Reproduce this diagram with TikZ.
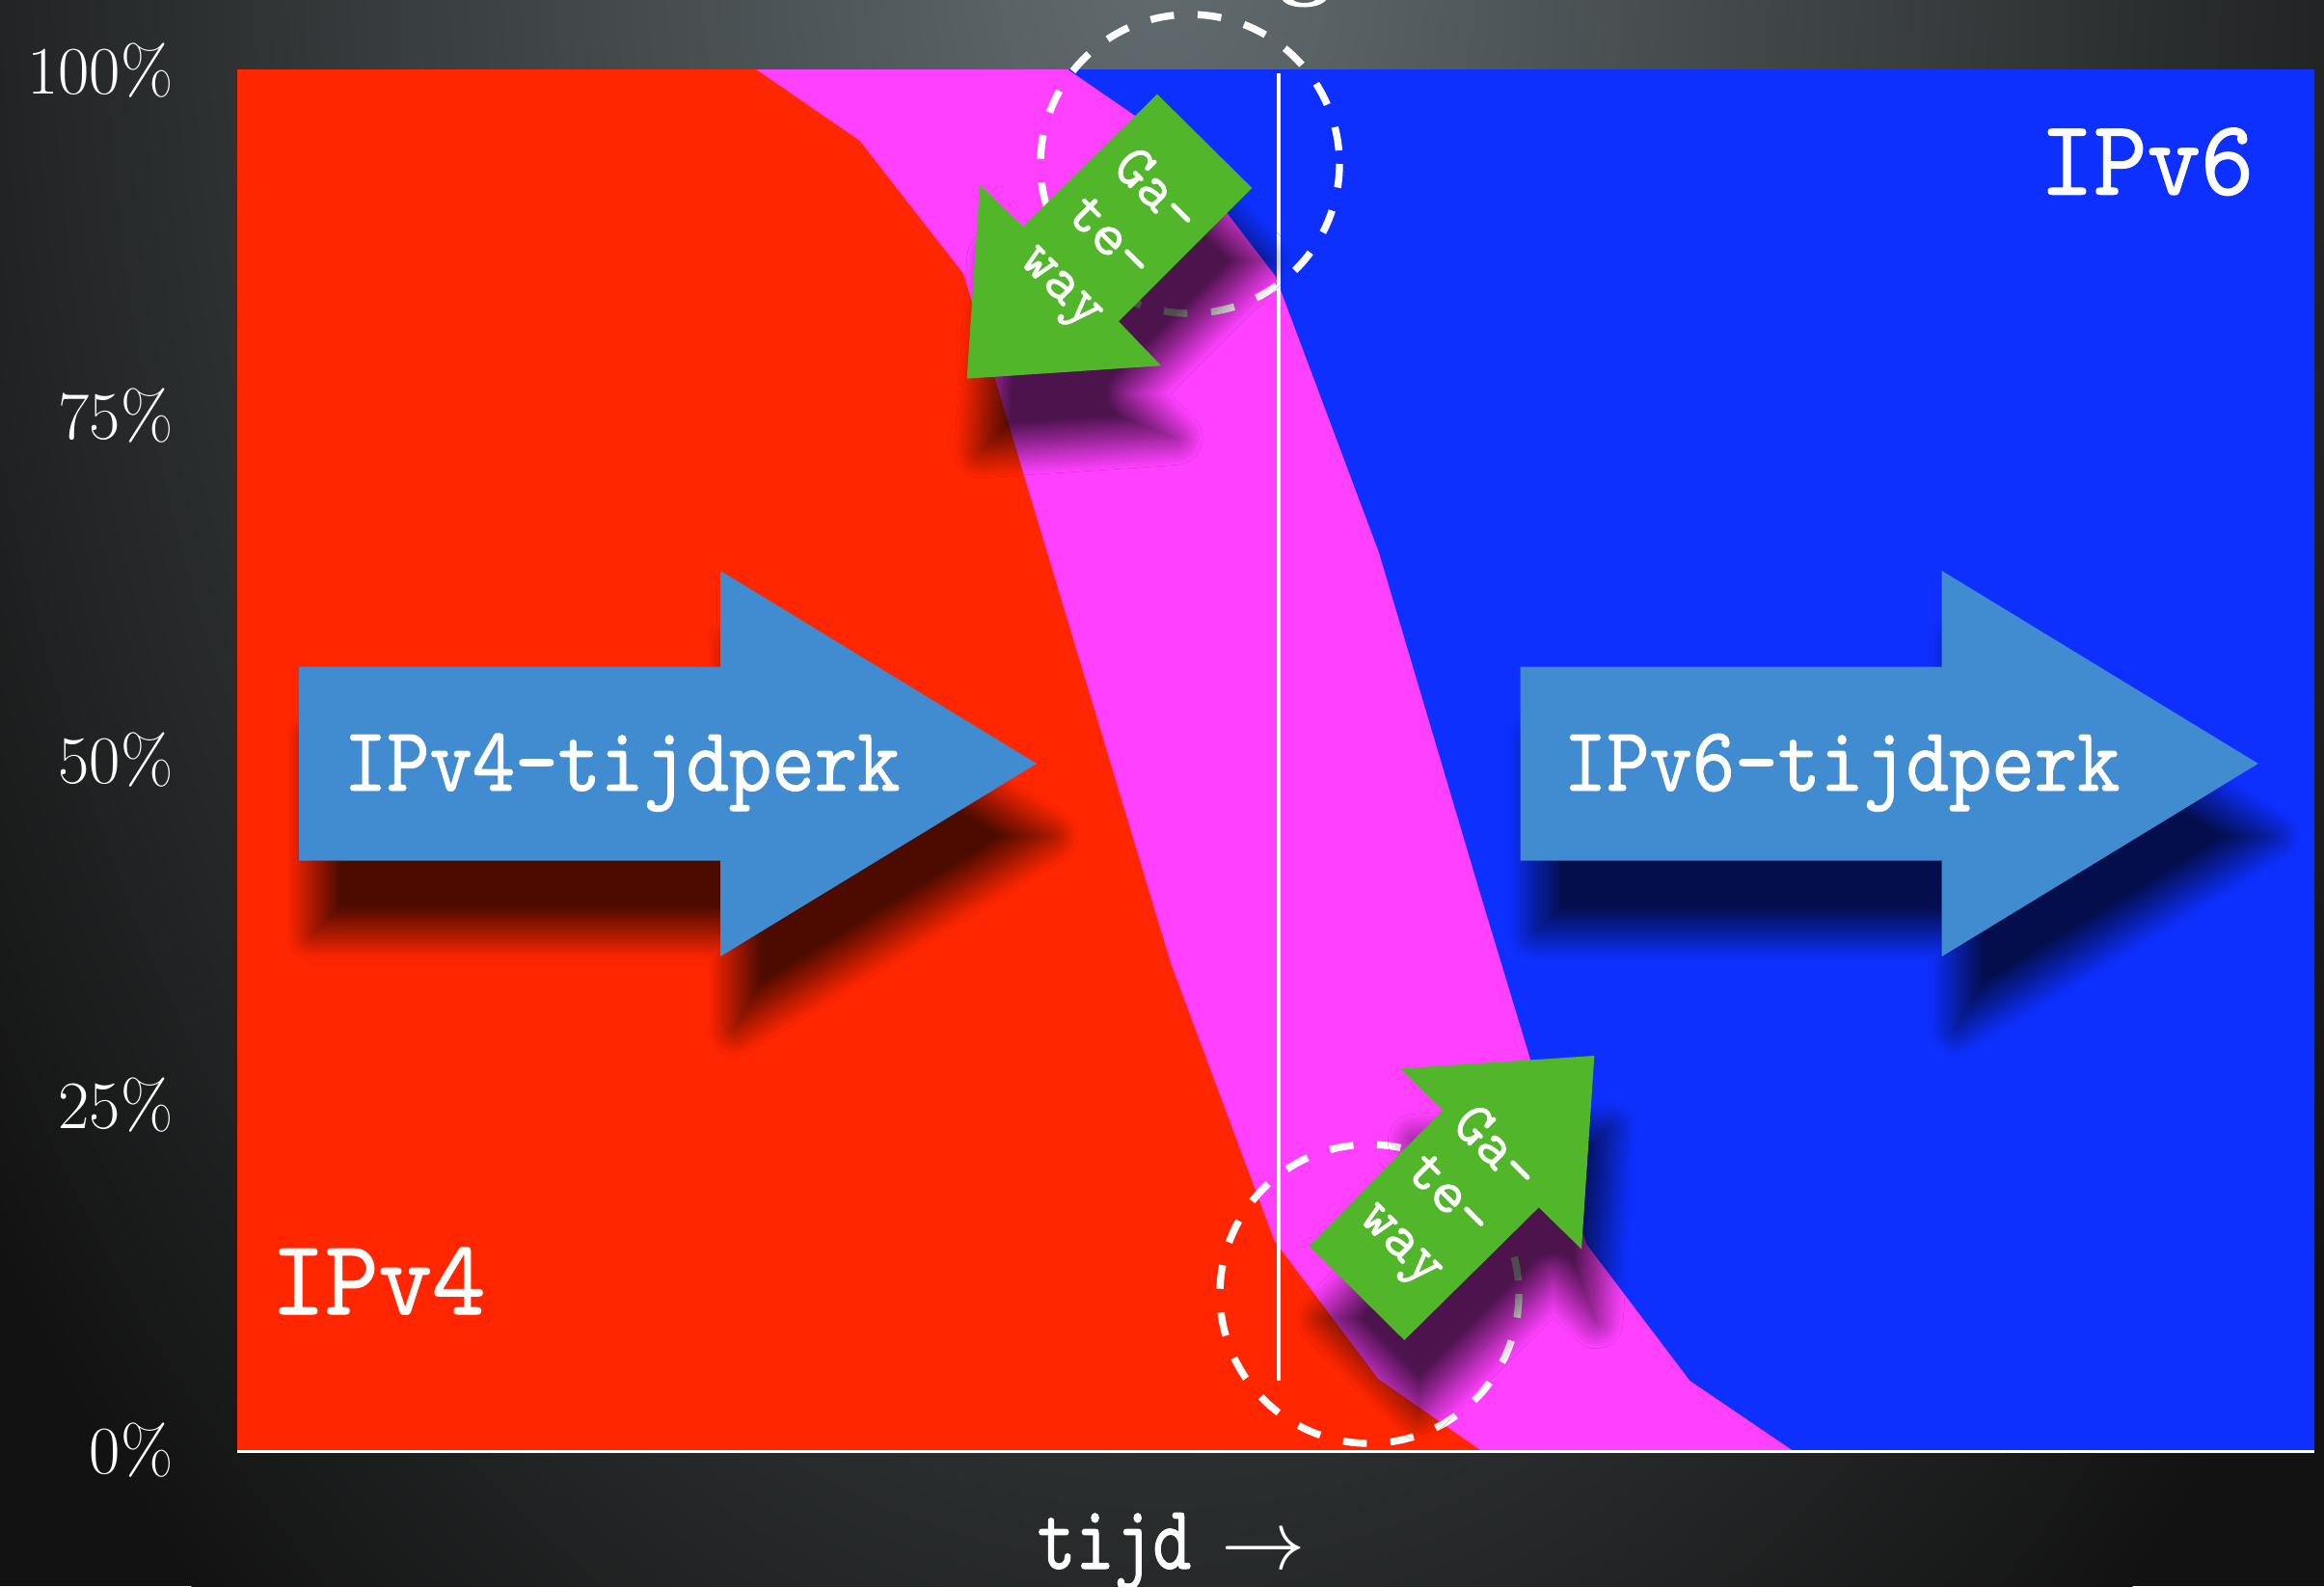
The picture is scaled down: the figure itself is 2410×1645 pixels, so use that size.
\documentclass[tikz,border=0pt]{standalone}
\usepackage{fontspec}
\usetikzlibrary{shadows.blur}
\newfontfamily\tw{lmmono10-regular.otf}[FakeBold=1]
\newfontfamily\twera{lmmono10-regular.otf}[FakeBold=1, FakeStretch=0.89]
\newfontfamily\twlab{lmmono10-regular.otf}[FakeBold=1, FakeStretch=0.95]
\newfontfamily\twtime{lmmono10-regular.otf}[FakeBold=1, FakeStretch=0.8]
\definecolor{ipfour}{RGB}{255,38,0}
\definecolor{mixpink}{RGB}{255,64,255}
\definecolor{ipsix}{RGB}{14,48,255}
\definecolor{eraarrow}{RGB}{65,139,208}
\definecolor{gwgreen}{RGB}{82,182,42}
\definecolor{bgtop}{RGB}{98,108,112}
\definecolor{bgbottom}{RGB}{18,18,18}
\begin{document}
\begin{tikzpicture}[x=0.01cm,y=-0.01cm,
  myshadow/.style={blur shadow={shadow xshift=0.15cm, shadow yshift=-0.75cm, shadow blur radius=0.28cm, shadow blur steps=30, shadow opacity=70}},
  erafill/.style={fill=eraarrow, myshadow},
  gwfill/.style={fill=gwgreen, myshadow},
  gwring/.style={draw=white, line width=2.1pt, dash pattern=on 7pt off 7pt},
  eratext/.style={text=white, inner sep=0pt, font=\twera\fontsize{27}{32}\selectfont},
  bigtext/.style={text=white, inner sep=0pt, font=\twlab\fontsize{31.6}{36}\selectfont},
  gwtext/.style={text=white, inner sep=0pt, align=center, rotate=-45, font=\tw\fontsize{18}{19.3}\selectfont},
  ticktext/.style={text=white, inner sep=0pt, anchor=base east, font=\fontsize{20}{24}\selectfont}]
\useasboundingbox (0,0) rectangle (2410,1645);
% background
\begin{scope}
\clip (0,0) rectangle (2410,1645);
\fill[bgbottom] (0,0) rectangle (2410,1645);
\shade[inner color=bgtop, outer color=bgbottom] (1205,-60) ellipse (1500 and 2300);
\end{scope}
% fragment of cut-off title glyph
\fill[white] (1330,0) .. controls (1336,10) and (1368,10) .. (1375,0) -- (1364,0) .. controls (1360,4) and (1345,4) .. (1341,0) -- cycle;
% chart areas
\fill[mixpink] (246,72) rectangle (2400,1505);
\fill[ipfour] (246,72) -- (784,72) -- (891.5,146) -- (999,284) -- (1214,999) -- (1321.5,1287) -- (1429,1430) -- (1536.5,1505) -- (246,1505) -- cycle;
\fill[ipsix] (1107.5,72) -- (2400,72) -- (2400,1505) -- (1860,1505) -- (1752.5,1432) -- (1645,1290) -- (1537.5,935) -- (1430,573) -- (1322.5,286) -- (1215,146) -- cycle;
\draw[white, line width=0.85pt] (246,1505) -- (2400,1505);
\draw[white, line width=1.4pt] (1326,76) -- (1326,1432);
% dashed rings
\draw[gwring] (1234,170) circle (155);
\draw[gwring] (1420,1342) circle (155);
% era arrows
\fill[erafill] (310,691.7) -- (747,691.7) -- (747,592) -- (1075,792) -- (747,992) -- (747,892.7) -- (310,892.7) -- cycle;
\fill[erafill] (1576.7,691.7) -- (2013.7,691.7) -- (2013.7,592) -- (2341.7,792) -- (2013.7,992) -- (2013.7,892.7) -- (1576.7,892.7) -- cycle;
% gateway arrows
\fill[gwfill] (1200,97.7) -- (1298.3,195) -- (1160,333.3) -- (1204,379.3) -- (1002.7,392.7) -- (1016,191.7) -- (1061,235) -- cycle;
\fill[gwfill] (1357.7,1292.3) -- (1496,1151.7) -- (1452.3,1108.3) -- (1653.3,1095) -- (1640,1295.5) -- (1595.7,1252.3) -- (1456.3,1390) -- cycle;
% texts
\node[eratext, anchor=base west] (era4) at (356,820) {IPv4-tijdperk};
\node[eratext, anchor=base west] (era6) at (1621,820) {IPv6-tijdperk};
\node[bigtext, anchor=base west] (lab6) at (2115,201.7) {IPv6};
\node[bigtext, anchor=base west] (lab4) at (281,1363) {IPv4};
\node[gwtext] (gwtop) at (1148,250) {Ga-\\te-\\way};
\node[gwtext] (gwbot) at (1500,1243) {Ga-\\te-\\way};
\node[ticktext] (p100) at (180,97.3) {100\%};
\node[ticktext] (p75) at (180,455) {75\%};
\node[ticktext] (p50) at (180,812.7) {50\%};
\node[ticktext] (p25) at (180,1170.3) {25\%};
\node[ticktext] (p0) at (180,1528) {0\%};
\node[text=white, inner sep=0pt, anchor=base west, font=\fontsize{27}{32}\selectfont] (tijd) at (1075,1627) {{\twtime tijd}\hspace{9pt}$\rightarrow$};
\end{tikzpicture}
\end{document}
